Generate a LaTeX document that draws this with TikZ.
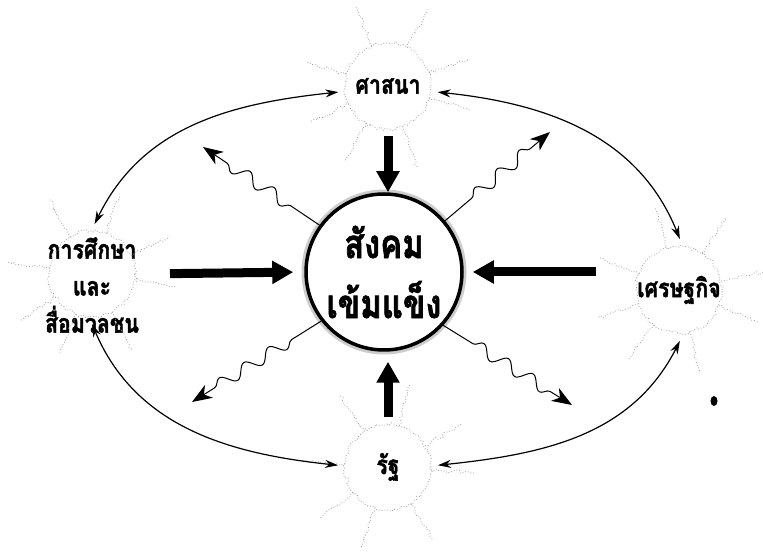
\documentclass[tikz,border=0pt]{standalone}
\usepackage{fontspec}
\newfontfamily\thaifont[Script=Thai,FakeStretch=0.82,FakeBold=1.6]{Loma}
\usetikzlibrary{arrows.meta,decorations.pathmorphing,calc}

\tikzset{
  sun/.style={circle, minimum size=86pt, inner sep=0pt, outer sep=7pt, align=center,
    font=\thaifont\bfseries\fontsize{26}{37}\selectfont},
  sunlabel/.style={align=center, inner sep=0pt, font=\thaifont\bfseries\fontsize{26}{37}\selectfont},
  ray/.style={draw=gray!75, dotted, line width=0.8pt, decorate,
    decoration={random steps, segment length=3pt, amplitude=1.8pt}},
  orbit/.style={{Stealth[length=13pt,width=8pt]}-{Stealth[length=13pt,width=8pt]}, line width=1.2pt},
  push/.style={-{Triangle[length=21pt,width=22pt]}, line width=9pt},
  wave/.style={-{Stealth[length=20pt,width=15pt,inset=6pt]}, line width=1pt, decorate,
    decoration={snake, segment length=29pt, amplitude=6pt, pre length=35pt, post length=20pt}},
}

\begin{document}
\begin{tikzpicture}[x=1pt, y=1pt]
    \useasboundingbox[fill=white] (0,0) rectangle (763,554);
    \pgfmathsetseed{11}

    % Suns
    \node[sun] (relig) at (388,468) {ศาสนา};
    \node[sun] (edu) at (92,280) {};
    \node[sunlabel] (edutext) at (92,269) {การศึกษา\\และ\\สื่อมวลชน};
    \node[sun] (econ) at (679,264) {เศรษฐกิจ};
    \node[sun] (state) at (388,87) {รัฐ};
    \foreach \s/\o in {relig/0, edu/8, econ/-6, state/12} {
        \draw[ray] (\s) circle[radius=43];
        \foreach \a in {18,63,112,164,205,240,290,344}
            \draw[ray] ($(\s)+(\a+\o:43)$) -- ($(\s)+(\a+\o:86)$);
    }

    % Society
    \draw[gray!40, line width=9pt] (384,282) circle[radius=78];
    \node[circle, draw, fill=white, line width=3.5pt, minimum size=156pt, inner sep=0pt, align=center,
        font=\thaifont\bfseries\fontsize{40}{60}\selectfont] (soc) at (384,282) {สังคม\\เข้มแข็ง};

    % Orbit
    \draw[orbit] (relig.187) to[out=186, in=64] (edu.87);
    \draw[orbit] (relig.-7) to[out=-6, in=112] (econ.89);
    \draw[orbit] (edu.270) to[out=-67, in=174] (state.178);
    \draw[orbit] (state.2) to[out=6, in=-117] (econ.271);

    % Forces
    \draw[push] (relig.south) -- (relig.south |- soc.north);
    \draw[push, shorten <=28pt, shorten >=11pt] (edu.east) -- (soc.west);
    \draw[push, shorten <=32pt, shorten >=9pt] (econ.west |- soc.east) -- (soc.east);
    \draw[push, shorten >=10pt] (state.north) -- (state.north |- soc.south);

    % Waves
    \coordinate (ul) at (203,407);
    \coordinate (ur) at (550,422);
    \coordinate (ll) at (192,152);
    \coordinate (lr) at (572,149);
    \draw[wave] (soc.144) -- (ul);
    \draw[wave] (soc.40) -- (ur);
    \draw[wave] (soc.218) -- (ll);
    \draw[wave] (soc.318) -- (lr);

    \fill (714,153) ellipse[x radius=3.5, y radius=5];
\end{tikzpicture}
\end{document}
